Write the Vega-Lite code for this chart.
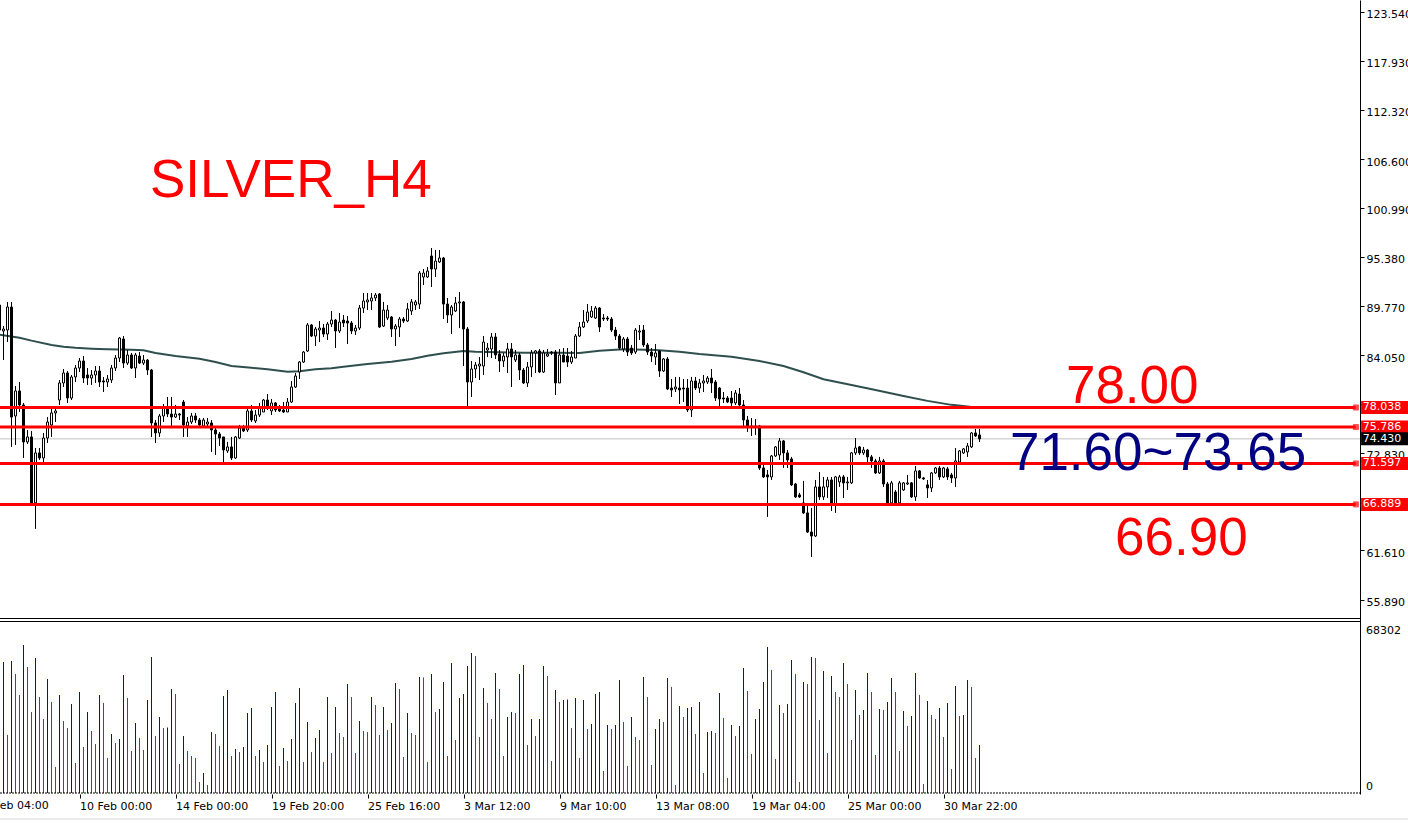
{
"$schema": "https://vega.github.io/schema/vega-lite/v6.json",
"width": 1360,
"height": 794,
"autosize": {"type": "none"},
"padding": {"left": 0, "top": 0, "right": 48, "bottom": 29},
"background": "#ffffff",
"config": {"view": {"stroke": null}, "font": "DejaVu Sans", "scale": {"continuousPadding": 0}, "axis": {"labelFont": "DejaVu Sans", "labelFontSize": 11, "labelColor": "#000000", "tickColor": "#000000", "domainColor": "#000000", "grid": false}},
"datasets": {
"bars": [
{"i":-1,"o":89.83,"h":90.64,"l":85.46,"c":86.95},
{"i":0,"o":86.84,"h":87.41,"l":83.5,"c":87.07},
{"i":1,"o":86.95,"h":90.18,"l":85.57,"c":89.6},
{"i":2,"o":89.6,"h":90.18,"l":73.5,"c":76.94},
{"i":3,"o":77.06,"h":80.51,"l":73.73,"c":79.94},
{"i":4,"o":79.94,"h":80.97,"l":77.52,"c":78.33},
{"i":5,"o":78.33,"h":78.56,"l":72.23,"c":74.07},
{"i":6,"o":74.07,"h":75.45,"l":73.84,"c":74.65},
{"i":7,"o":74.65,"h":75.34,"l":66.94,"c":67.06},
{"i":8,"o":67.06,"h":73.38,"l":64.07,"c":72.81},
{"i":9,"o":72.81,"h":73.38,"l":72.0,"c":72.23},
{"i":10,"o":72.23,"h":75.11,"l":71.66,"c":74.53},
{"i":11,"o":74.53,"h":76.94,"l":73.96,"c":76.37},
{"i":12,"o":76.03,"h":77.98,"l":74.65,"c":77.41},
{"i":13,"o":77.41,"h":78.1,"l":76.37,"c":77.64},
{"i":14,"o":78.9,"h":81.2,"l":78.33,"c":80.86},
{"i":15,"o":80.86,"h":82.47,"l":80.4,"c":82.01},
{"i":16,"o":82.01,"h":82.24,"l":78.56,"c":79.13},
{"i":17,"o":79.13,"h":81.78,"l":78.9,"c":81.55},
{"i":18,"o":81.55,"h":82.93,"l":80.97,"c":82.58},
{"i":19,"o":82.58,"h":83.73,"l":82.12,"c":83.39},
{"i":20,"o":83.39,"h":83.96,"l":80.86,"c":81.43},
{"i":21,"o":81.78,"h":82.58,"l":80.63,"c":81.43},
{"i":22,"o":81.43,"h":82.35,"l":80.63,"c":81.78},
{"i":23,"o":81.78,"h":82.81,"l":80.86,"c":82.24},
{"i":24,"o":82.24,"h":82.81,"l":80.4,"c":80.97},
{"i":25,"o":81.09,"h":81.55,"l":79.82,"c":80.97},
{"i":26,"o":80.97,"h":81.78,"l":80.4,"c":81.32},
{"i":27,"o":81.2,"h":82.93,"l":80.86,"c":82.58},
{"i":28,"o":82.58,"h":84.08,"l":82.24,"c":83.73},
{"i":29,"o":83.73,"h":86.15,"l":83.27,"c":86.03},
{"i":30,"o":85.92,"h":86.26,"l":82.58,"c":83.15},
{"i":31,"o":83.15,"h":84.65,"l":82.93,"c":84.08},
{"i":32,"o":84.08,"h":84.31,"l":82.47,"c":82.58},
{"i":33,"o":82.58,"h":84.31,"l":81.43,"c":84.08},
{"i":34,"o":83.96,"h":84.42,"l":83.04,"c":83.15},
{"i":35,"o":83.15,"h":84.08,"l":82.93,"c":83.5},
{"i":36,"o":83.5,"h":83.62,"l":81.78,"c":82.35},
{"i":37,"o":82.35,"h":82.47,"l":74.65,"c":76.26},
{"i":38,"o":76.26,"h":76.6,"l":73.96,"c":75.11},
{"i":39,"o":75.11,"h":77.29,"l":74.65,"c":77.06},
{"i":40,"o":77.06,"h":78.44,"l":76.37,"c":77.98},
{"i":41,"o":77.98,"h":79.25,"l":76.94,"c":77.29},
{"i":42,"o":77.29,"h":79.25,"l":75.91,"c":76.94},
{"i":43,"o":76.94,"h":78.33,"l":76.83,"c":77.29},
{"i":44,"o":77.29,"h":77.41,"l":76.6,"c":77.17},
{"i":45,"o":78.67,"h":78.9,"l":74.65,"c":76.03},
{"i":46,"o":75.91,"h":76.94,"l":74.65,"c":76.37},
{"i":47,"o":76.37,"h":77.41,"l":76.14,"c":77.06},
{"i":48,"o":77.06,"h":77.41,"l":76.26,"c":76.6},
{"i":49,"o":76.6,"h":76.83,"l":75.8,"c":76.03},
{"i":50,"o":75.91,"h":76.83,"l":75.8,"c":76.6},
{"i":51,"o":76.14,"h":76.83,"l":75.8,"c":76.37},
{"i":52,"o":76.26,"h":76.6,"l":72.92,"c":75.45},
{"i":53,"o":75.45,"h":75.68,"l":72.58,"c":74.99},
{"i":54,"o":74.99,"h":75.22,"l":73.61,"c":74.53},
{"i":55,"o":74.65,"h":74.65,"l":71.77,"c":73.15},
{"i":56,"o":73.04,"h":74.07,"l":72.81,"c":73.5},
{"i":57,"o":73.5,"h":74.65,"l":72.0,"c":72.23},
{"i":58,"o":72.23,"h":74.76,"l":72.12,"c":74.65},
{"i":59,"o":74.53,"h":76.03,"l":74.42,"c":75.68},
{"i":60,"o":75.68,"h":76.03,"l":75.22,"c":75.34},
{"i":61,"o":75.45,"h":78.21,"l":75.22,"c":77.64},
{"i":62,"o":77.64,"h":78.33,"l":76.37,"c":76.6},
{"i":63,"o":76.49,"h":77.75,"l":76.26,"c":77.17},
{"i":64,"o":77.17,"h":78.56,"l":76.94,"c":78.1},
{"i":65,"o":77.52,"h":79.02,"l":77.52,"c":78.9},
{"i":66,"o":78.9,"h":79.59,"l":77.75,"c":78.1},
{"i":67,"o":77.64,"h":79.02,"l":77.17,"c":78.56},
{"i":68,"o":78.56,"h":78.67,"l":77.52,"c":77.75},
{"i":69,"o":77.87,"h":78.33,"l":77.52,"c":77.64},
{"i":70,"o":77.75,"h":78.67,"l":77.41,"c":77.52},
{"i":71,"o":77.52,"h":79.13,"l":77.52,"c":78.67},
{"i":72,"o":78.67,"h":81.09,"l":78.56,"c":80.4},
{"i":73,"o":80.4,"h":82.01,"l":80.28,"c":81.66},
{"i":74,"o":82.12,"h":83.39,"l":81.32,"c":83.27},
{"i":75,"o":83.27,"h":84.54,"l":83.15,"c":84.42},
{"i":76,"o":84.54,"h":87.76,"l":84.42,"c":87.53},
{"i":77,"o":87.53,"h":87.64,"l":86.15,"c":86.26},
{"i":78,"o":86.26,"h":87.3,"l":85.11,"c":87.07},
{"i":79,"o":86.95,"h":87.99,"l":85.57,"c":87.18},
{"i":80,"o":87.18,"h":87.64,"l":86.15,"c":86.49},
{"i":81,"o":86.49,"h":87.87,"l":85.8,"c":87.64},
{"i":82,"o":87.64,"h":89.14,"l":87.3,"c":88.1},
{"i":83,"o":88.1,"h":88.22,"l":84.88,"c":86.84},
{"i":84,"o":86.84,"h":88.91,"l":86.61,"c":87.87},
{"i":85,"o":88.1,"h":88.68,"l":87.3,"c":87.76},
{"i":86,"o":87.99,"h":88.56,"l":85.34,"c":87.76},
{"i":87,"o":87.76,"h":87.99,"l":86.49,"c":86.84},
{"i":88,"o":86.84,"h":87.53,"l":86.38,"c":87.18},
{"i":89,"o":87.18,"h":89.83,"l":86.95,"c":89.48},
{"i":90,"o":89.48,"h":91.21,"l":88.91,"c":90.29},
{"i":91,"o":90.18,"h":91.21,"l":89.25,"c":90.41},
{"i":92,"o":90.29,"h":91.21,"l":89.25,"c":90.64},
{"i":93,"o":90.64,"h":91.21,"l":90.29,"c":90.98},
{"i":94,"o":91.1,"h":91.21,"l":87.18,"c":87.3},
{"i":95,"o":87.41,"h":90.18,"l":87.3,"c":89.25},
{"i":96,"o":88.33,"h":89.83,"l":88.1,"c":89.25},
{"i":97,"o":88.45,"h":88.56,"l":86.15,"c":87.07},
{"i":98,"o":87.07,"h":87.64,"l":85.11,"c":87.41},
{"i":99,"o":87.3,"h":88.45,"l":86.15,"c":88.22},
{"i":100,"o":88.22,"h":88.45,"l":87.76,"c":87.99},
{"i":101,"o":87.99,"h":90.06,"l":87.87,"c":89.37},
{"i":102,"o":89.14,"h":90.52,"l":88.68,"c":90.18},
{"i":103,"o":89.83,"h":90.41,"l":89.25,"c":90.18},
{"i":104,"o":89.94,"h":93.74,"l":89.37,"c":93.51},
{"i":105,"o":93.05,"h":93.97,"l":92.13,"c":93.51},
{"i":106,"o":93.05,"h":94.2,"l":92.94,"c":93.74},
{"i":107,"o":95.47,"h":96.39,"l":91.9,"c":93.97},
{"i":108,"o":93.97,"h":96.16,"l":93.05,"c":94.89},
{"i":109,"o":94.78,"h":96.16,"l":94.66,"c":95.24},
{"i":110,"o":95.24,"h":95.36,"l":88.22,"c":89.94},
{"i":111,"o":89.94,"h":90.64,"l":87.76,"c":88.68},
{"i":112,"o":88.68,"h":89.83,"l":86.49,"c":89.6},
{"i":113,"o":89.14,"h":90.75,"l":89.02,"c":90.06},
{"i":114,"o":90.06,"h":91.33,"l":87.18,"c":90.18},
{"i":115,"o":90.18,"h":90.29,"l":82.81,"c":87.07},
{"i":116,"o":87.07,"h":87.3,"l":78.1,"c":80.97},
{"i":117,"o":80.97,"h":83.39,"l":79.25,"c":82.47},
{"i":118,"o":82.47,"h":83.27,"l":81.43,"c":82.93},
{"i":119,"o":82.81,"h":83.85,"l":81.2,"c":83.04},
{"i":120,"o":82.81,"h":86.26,"l":81.78,"c":85.57},
{"i":121,"o":84.65,"h":85.46,"l":83.85,"c":84.88},
{"i":122,"o":84.77,"h":86.61,"l":83.73,"c":86.15},
{"i":123,"o":86.15,"h":86.61,"l":83.62,"c":84.08},
{"i":124,"o":84.19,"h":84.65,"l":82.12,"c":83.39},
{"i":125,"o":83.39,"h":84.31,"l":82.7,"c":83.96},
{"i":126,"o":83.85,"h":85.46,"l":82.01,"c":84.77},
{"i":127,"o":84.77,"h":85.46,"l":80.4,"c":83.85},
{"i":128,"o":83.5,"h":84.65,"l":83.27,"c":84.08},
{"i":129,"o":84.08,"h":84.31,"l":81.2,"c":82.35},
{"i":130,"o":82.35,"h":82.58,"l":80.74,"c":80.86},
{"i":131,"o":80.86,"h":83.27,"l":80.4,"c":82.7},
{"i":132,"o":82.7,"h":84.65,"l":81.55,"c":84.31},
{"i":133,"o":84.31,"h":84.65,"l":82.01,"c":84.54},
{"i":134,"o":84.54,"h":84.77,"l":82.01,"c":82.12},
{"i":135,"o":82.12,"h":84.65,"l":82.01,"c":84.31},
{"i":136,"o":83.96,"h":84.77,"l":83.85,"c":84.19},
{"i":137,"o":84.42,"h":84.54,"l":84.08,"c":84.31},
{"i":138,"o":84.42,"h":84.65,"l":79.48,"c":80.86},
{"i":139,"o":80.86,"h":84.77,"l":80.86,"c":84.08},
{"i":140,"o":84.08,"h":84.88,"l":83.27,"c":83.27},
{"i":141,"o":83.96,"h":84.88,"l":82.7,"c":83.27},
{"i":142,"o":83.27,"h":84.54,"l":83.04,"c":83.85},
{"i":143,"o":83.73,"h":86.49,"l":83.73,"c":86.26},
{"i":144,"o":86.26,"h":87.87,"l":86.15,"c":87.3},
{"i":145,"o":87.3,"h":89.25,"l":87.18,"c":87.87},
{"i":146,"o":87.99,"h":89.94,"l":87.76,"c":89.02},
{"i":147,"o":88.45,"h":89.71,"l":88.33,"c":89.14},
{"i":148,"o":88.33,"h":89.71,"l":88.22,"c":89.48},
{"i":149,"o":89.48,"h":89.6,"l":86.72,"c":87.3},
{"i":150,"o":88.33,"h":88.79,"l":87.99,"c":88.22},
{"i":151,"o":88.33,"h":88.56,"l":87.99,"c":88.22},
{"i":152,"o":88.22,"h":88.45,"l":86.72,"c":86.95},
{"i":153,"o":86.95,"h":87.3,"l":85.8,"c":86.26},
{"i":154,"o":86.26,"h":86.49,"l":84.65,"c":84.88},
{"i":155,"o":84.77,"h":86.15,"l":84.42,"c":85.92},
{"i":156,"o":85.92,"h":86.15,"l":83.96,"c":84.42},
{"i":157,"o":84.88,"h":85.23,"l":84.08,"c":84.31},
{"i":158,"o":84.42,"h":87.18,"l":84.19,"c":86.95},
{"i":159,"o":86.72,"h":87.53,"l":85.8,"c":86.84},
{"i":160,"o":86.95,"h":87.53,"l":85.0,"c":85.23},
{"i":161,"o":85.23,"h":85.46,"l":84.08,"c":84.42},
{"i":162,"o":84.42,"h":84.88,"l":83.27,"c":83.96},
{"i":163,"o":83.85,"h":85.34,"l":82.93,"c":84.31},
{"i":164,"o":84.54,"h":84.65,"l":81.55,"c":82.24},
{"i":165,"o":82.24,"h":83.73,"l":82.12,"c":83.62},
{"i":166,"o":83.62,"h":83.85,"l":80.05,"c":80.17},
{"i":167,"o":80.28,"h":81.32,"l":79.25,"c":80.05},
{"i":168,"o":80.17,"h":81.55,"l":79.82,"c":80.4},
{"i":169,"o":80.28,"h":81.55,"l":78.44,"c":80.05},
{"i":170,"o":80.28,"h":81.32,"l":78.67,"c":80.17},
{"i":171,"o":80.28,"h":81.32,"l":77.52,"c":77.75},
{"i":172,"o":77.75,"h":81.55,"l":76.94,"c":81.09},
{"i":173,"o":81.09,"h":81.55,"l":80.05,"c":80.28},
{"i":174,"o":80.28,"h":81.32,"l":79.71,"c":80.86},
{"i":175,"o":80.86,"h":81.78,"l":79.82,"c":81.09},
{"i":176,"o":80.97,"h":81.66,"l":80.74,"c":81.43},
{"i":177,"o":81.43,"h":82.47,"l":79.71,"c":80.86},
{"i":178,"o":80.97,"h":81.2,"l":78.79,"c":79.13},
{"i":179,"o":80.28,"h":80.4,"l":78.1,"c":79.02},
{"i":180,"o":79.13,"h":79.82,"l":78.56,"c":79.02},
{"i":181,"o":79.13,"h":79.36,"l":78.56,"c":78.67},
{"i":182,"o":79.13,"h":79.94,"l":78.1,"c":78.56},
{"i":183,"o":78.56,"h":80.05,"l":78.33,"c":79.71},
{"i":184,"o":79.59,"h":80.28,"l":77.98,"c":78.33},
{"i":185,"o":78.33,"h":78.9,"l":75.68,"c":76.6},
{"i":186,"o":76.6,"h":77.06,"l":75.22,"c":75.91},
{"i":187,"o":75.91,"h":76.83,"l":74.76,"c":75.8},
{"i":188,"o":75.8,"h":76.72,"l":74.88,"c":75.91},
{"i":189,"o":75.91,"h":76.03,"l":70.85,"c":71.08},
{"i":190,"o":71.08,"h":71.77,"l":69.93,"c":70.05},
{"i":191,"o":70.28,"h":70.85,"l":65.45,"c":70.05},
{"i":192,"o":70.05,"h":72.58,"l":69.7,"c":72.46},
{"i":193,"o":72.46,"h":73.61,"l":72.35,"c":73.5},
{"i":194,"o":72.58,"h":74.53,"l":72.0,"c":74.19},
{"i":195,"o":74.19,"h":74.3,"l":71.08,"c":72.81},
{"i":196,"o":72.81,"h":73.15,"l":71.08,"c":72.0},
{"i":197,"o":72.12,"h":72.35,"l":69.01,"c":69.13},
{"i":198,"o":69.24,"h":69.36,"l":67.63,"c":67.75},
{"i":199,"o":67.98,"h":68.21,"l":67.63,"c":67.75},
{"i":200,"o":67.06,"h":69.59,"l":65.79,"c":65.91},
{"i":201,"o":65.91,"h":67.06,"l":63.6,"c":63.71},
{"i":202,"o":63.71,"h":66.48,"l":60.84,"c":63.25},
{"i":203,"o":63.25,"h":69.7,"l":63.14,"c":68.9},
{"i":204,"o":68.9,"h":70.62,"l":67.4,"c":67.75},
{"i":205,"o":67.75,"h":70.05,"l":67.4,"c":68.9},
{"i":206,"o":68.9,"h":70.05,"l":67.63,"c":69.7},
{"i":207,"o":69.7,"h":70.05,"l":66.13,"c":66.94},
{"i":208,"o":66.94,"h":70.16,"l":65.91,"c":70.05},
{"i":209,"o":69.47,"h":70.28,"l":68.9,"c":70.05},
{"i":210,"o":70.05,"h":70.28,"l":67.63,"c":69.36},
{"i":211,"o":69.36,"h":70.05,"l":68.55,"c":69.47},
{"i":212,"o":69.36,"h":72.92,"l":69.24,"c":72.81},
{"i":213,"o":72.81,"h":74.53,"l":72.58,"c":73.38},
{"i":214,"o":73.5,"h":73.61,"l":72.58,"c":72.81},
{"i":215,"o":72.81,"h":73.5,"l":72.58,"c":73.15},
{"i":216,"o":73.15,"h":73.27,"l":71.77,"c":72.35},
{"i":217,"o":72.35,"h":72.58,"l":71.08,"c":71.89},
{"i":218,"o":71.89,"h":72.12,"l":70.39,"c":70.51},
{"i":219,"o":70.51,"h":72.35,"l":70.39,"c":71.89},
{"i":220,"o":71.89,"h":72.12,"l":68.9,"c":69.24},
{"i":221,"o":69.24,"h":69.47,"l":66.94,"c":67.06},
{"i":222,"o":67.06,"h":69.59,"l":66.94,"c":69.36},
{"i":223,"o":68.32,"h":68.55,"l":66.94,"c":67.06},
{"i":224,"o":67.06,"h":69.59,"l":66.94,"c":69.36},
{"i":225,"o":68.55,"h":69.47,"l":68.44,"c":69.36},
{"i":226,"o":69.24,"h":70.28,"l":69.13,"c":69.36},
{"i":227,"o":69.36,"h":69.47,"l":67.63,"c":67.75},
{"i":228,"o":67.75,"h":71.31,"l":67.29,"c":70.74},
{"i":229,"o":70.74,"h":70.85,"l":69.82,"c":69.93},
{"i":230,"o":69.93,"h":70.05,"l":69.7,"c":69.82},
{"i":231,"o":69.13,"h":69.7,"l":67.63,"c":68.78},
{"i":232,"o":68.78,"h":70.62,"l":68.32,"c":70.51},
{"i":233,"o":70.51,"h":71.2,"l":70.39,"c":71.08},
{"i":234,"o":71.08,"h":71.31,"l":69.7,"c":70.05},
{"i":235,"o":70.05,"h":71.2,"l":69.93,"c":71.08},
{"i":236,"o":70.97,"h":71.2,"l":69.7,"c":70.05},
{"i":237,"o":70.28,"h":70.51,"l":69.36,"c":69.93},
{"i":238,"o":69.93,"h":73.38,"l":68.9,"c":71.89},
{"i":239,"o":71.77,"h":73.15,"l":71.66,"c":73.04},
{"i":240,"o":72.81,"h":73.38,"l":72.69,"c":73.27},
{"i":241,"o":72.92,"h":73.96,"l":72.35,"c":73.61},
{"i":242,"o":73.5,"h":75.22,"l":73.38,"c":75.11},
{"i":243,"o":75.11,"h":75.57,"l":74.65,"c":74.76},
{"i":244,"o":74.88,"h":75.57,"l":74.07,"c":74.43}
],
"vol": [
{"i":0,"v":52321},{"i":1,"v":23165},{"i":2,"v":52721},{"i":3,"v":47529},{"i":4,"v":39141},{"i":5,"v":59111},{"i":6,"v":50324},{"i":7,"v":32351},{"i":8,"v":53919},{"i":9,"v":38342},
{"i":10,"v":29556},{"i":11,"v":45532},{"i":12,"v":36345},{"i":13,"v":10384},{"i":14,"v":39141},{"i":15,"v":28757},{"i":16,"v":25961},{"i":17,"v":35547},{"i":18,"v":11982},{"i":19,"v":40339},
{"i":20,"v":18372},{"i":21,"v":32351},{"i":22,"v":24763},{"i":23,"v":19571},{"i":24,"v":39141},{"i":25,"v":35946},{"i":26,"v":13979},{"i":27,"v":23565},{"i":28,"v":19970},{"i":29,"v":21568},
{"i":30,"v":47129},{"i":31,"v":37943},{"i":32,"v":16775},{"i":33,"v":27958},{"i":34,"v":21967},{"i":35,"v":17174},{"i":36,"v":37144},{"i":37,"v":54318},{"i":38,"v":22766},{"i":39,"v":30354},
{"i":40,"v":25961},{"i":41,"v":26200},{"i":42,"v":41538},{"i":43,"v":39541},{"i":44,"v":11583},{"i":45,"v":22766},{"i":46,"v":16775},{"i":47,"v":14778},{"i":48,"v":13979},{"i":49,"v":4393},
{"i":50,"v":7988},{"i":51,"v":3195},{"i":52,"v":24363},{"i":53,"v":23565},{"i":54,"v":18772},{"i":55,"v":38742},{"i":56,"v":41138},{"i":57,"v":14778},{"i":58,"v":17574},{"i":59,"v":16375},
{"i":60,"v":18372},{"i":61,"v":31952},{"i":62,"v":33949},{"i":63,"v":14778},{"i":64,"v":17174},{"i":65,"v":12381},{"i":66,"v":19171},{"i":67,"v":34348},{"i":68,"v":40339},{"i":69,"v":10784},
{"i":70,"v":17973},{"i":71,"v":12781},{"i":72,"v":21568},{"i":73,"v":35946},{"i":74,"v":41937},{"i":75,"v":12381},{"i":76,"v":28357},{"i":77,"v":16375},{"i":78,"v":21967},{"i":79,"v":25162},
{"i":80,"v":12381},{"i":81,"v":38342},{"i":82,"v":15976},{"i":83,"v":34348},{"i":84,"v":23964},{"i":85,"v":22366},{"i":86,"v":43535},{"i":87,"v":38342},{"i":88,"v":15976},{"i":89,"v":28757},
{"i":90,"v":24763},{"i":91,"v":24363},{"i":92,"v":38342},{"i":93,"v":35147},{"i":94,"v":23165},{"i":95,"v":34348},{"i":96,"v":25162},{"i":97,"v":27958},{"i":98,"v":43934},{"i":99,"v":41538},
{"i":100,"v":14378},{"i":101,"v":31952},{"i":102,"v":23964},{"i":103,"v":23165},{"i":104,"v":46330},{"i":105,"v":46100},{"i":106,"v":12381},{"i":107,"v":47529},{"i":108,"v":32351},{"i":109,"v":33550},
{"i":110,"v":44333},{"i":111,"v":14778},{"i":112,"v":51922},{"i":113,"v":21168},{"i":114,"v":37943},{"i":115,"v":39541},{"i":116,"v":50724},{"i":117,"v":55916},{"i":118,"v":54718},{"i":119,"v":22366},
{"i":120,"v":41937},{"i":121,"v":35946},{"i":122,"v":29556},{"i":123,"v":47928},{"i":124,"v":41538},{"i":125,"v":14778},{"i":126,"v":30354},{"i":127,"v":32351},{"i":128,"v":31952},{"i":129,"v":47529},
{"i":130,"v":51123},{"i":131,"v":19171},{"i":132,"v":29556},{"i":133,"v":22766},{"i":134,"v":29556},{"i":135,"v":50724},{"i":136,"v":46730},{"i":137,"v":12781},{"i":138,"v":41138},{"i":139,"v":36345},
{"i":140,"v":37144},{"i":141,"v":37300},{"i":142,"v":25961},{"i":143,"v":37943},{"i":144,"v":13979},{"i":145,"v":37144},{"i":146,"v":25562},{"i":147,"v":27559},{"i":148,"v":39541},{"i":149,"v":40339},
{"i":150,"v":8787},{"i":151,"v":27159},{"i":152,"v":25562},{"i":153,"v":27159},{"i":154,"v":45132},{"i":155,"v":28357},{"i":156,"v":10784},{"i":157,"v":30354},{"i":158,"v":22366},{"i":159,"v":21168},
{"i":160,"v":46330},{"i":161,"v":38342},{"i":162,"v":11183},{"i":163,"v":25562},{"i":164,"v":29556},{"i":165,"v":28357},{"i":166,"v":45931},{"i":167,"v":42336},{"i":168,"v":3195},{"i":169,"v":34748},
{"i":170,"v":30354},{"i":171,"v":33949},{"i":172,"v":34348},{"i":173,"v":23565},{"i":174,"v":36345},{"i":175,"v":7988},{"i":176,"v":24363},{"i":177,"v":24763},{"i":178,"v":23964},{"i":179,"v":39940},
{"i":180,"v":29955},{"i":181,"v":5991},{"i":182,"v":27159},{"i":183,"v":22766},{"i":184,"v":26760},{"i":185,"v":49925},{"i":186,"v":40739},{"i":187,"v":15577},{"i":188,"v":29556},{"i":189,"v":33550},
{"i":190,"v":44333},{"i":191,"v":58312},{"i":192,"v":49126},{"i":193,"v":13580},{"i":194,"v":35147},{"i":195,"v":31952},{"i":196,"v":35547},{"i":197,"v":53120},{"i":198,"v":47529},{"i":199,"v":4393},
{"i":200,"v":44333},{"i":201,"v":43535},{"i":202,"v":54318},{"i":203,"v":53919},{"i":204,"v":29156},{"i":205,"v":48727},{"i":206,"v":15976},{"i":207,"v":46730},{"i":208,"v":40339},{"i":209,"v":38342},
{"i":210,"v":51922},{"i":211,"v":43535},{"i":212,"v":21168},{"i":213,"v":41138},{"i":214,"v":31153},{"i":215,"v":33150},{"i":216,"v":47928},{"i":217,"v":40339},{"i":218,"v":15177},{"i":219,"v":33550},
{"i":220,"v":33150},{"i":221,"v":36345},{"i":222,"v":45931},{"i":223,"v":40339},{"i":224,"v":16775},{"i":225,"v":32751},{"i":226,"v":26760},{"i":227,"v":30754},{"i":228,"v":47928},{"i":229,"v":39141},
{"i":230,"v":3595},{"i":231,"v":36745},{"i":232,"v":31153},{"i":233,"v":29556},{"i":234,"v":33949},{"i":235,"v":22366},{"i":236,"v":35946},{"i":237,"v":9586},{"i":238,"v":42736},{"i":239,"v":30754},
{"i":240,"v":31153},{"i":241,"v":45132},{"i":242,"v":42336},{"i":243,"v":13979},{"i":244,"v":19171}
],
"ma": [
{"i":-1,"m":86.41},{"i":4,"m":86.07},{"i":7,"m":85.73},{"i":12,"m":85.23},{"i":15,"m":85.04},{"i":18,"m":84.92},{"i":22,"m":84.81},{"i":26,"m":84.74},{"i":32,"m":84.69},{"i":35,"m":84.62},{"i":38,"m":84.31},{"i":43,"m":83.96},{"i":49,"m":83.65},{"i":53,"m":83.27},{"i":57,"m":82.81},{"i":62,"m":82.61},{"i":66,"m":82.43},{"i":71,"m":82.15},{"i":74,"m":82.2},{"i":78,"m":82.43},{"i":82,"m":82.54},{"i":85,"m":82.73},{"i":91,"m":83.04},{"i":97,"m":83.3},{"i":102,"m":83.61},{"i":106,"m":83.99},{"i":110,"m":84.27},{"i":115,"m":84.53},{"i":118,"m":84.45},{"i":130,"m":84.34},{"i":139,"m":84.34},{"i":144,"m":84.31},{"i":149,"m":84.57},{"i":155,"m":84.73},{"i":163,"m":84.65},{"i":169,"m":84.45},{"i":174,"m":84.19},{"i":182,"m":83.88},{"i":189,"m":83.39},{"i":195,"m":82.81},{"i":200,"m":82.09},{"i":205,"m":81.29},{"i":212,"m":80.63},{"i":218,"m":80.06},{"i":225,"m":79.37},{"i":231,"m":78.8},{"i":237,"m":78.34},{"i":241,"m":78.14},{"i":244,"m":77.99}
],
"levels": [{"p":78.038},{"p":75.786},{"p":71.597},{"p":66.889}]
},
"resolve": {"scale": {"y": "independent"}},
"layer": [
{
"layer": [
{
"data": {"name": "vol"},
"transform": [{"window": [{"op": "lag", "field": "v", "as": "pv"}], "sort": [{"field": "i"}]}, {"filter": "datum.v > datum.pv"}],
"mark": {"type": "bar", "size": 1, "color": "#0000ff", "fill": "#0000ff", "stroke": null},
"encoding": {
"x": {"field": "i", "type": "quantitative", "title": null, "scale": {"domain": [-0.875, 339.125], "nice": false, "zero": false, "padding": 0},
"axis": {"orient": "bottom", "values": [19,43,67,91,115,139,163,187,211,235], "labelExpr": "['10 Feb 00:00','14 Feb 00:00','19 Feb 20:00','25 Feb 16:00','3 Mar 12:00','9 Mar 10:00','13 Mar 08:00','19 Mar 04:00','25 Mar 00:00','30 Mar 22:00'][round((datum.value-19)/24)]", "labelAlign": "left", "labelPadding": 2, "tickSize": 4, "domain": false, "labelOverlap": false, "labelFlush": false, "labelBound": false, "title": null}},
"y": {"field": "v", "type": "quantitative", "scale": {"domain": [-399, 316748], "nice": false, "zero": false, "padding": 0}, "axis": null},
"y2": {"datum": 0}
}
},
{
"data": {"name": "vol"},
"transform": [{"window": [{"op": "lag", "field": "v", "as": "pv"}], "sort": [{"field": "i"}]}, {"filter": "!(datum.v > datum.pv)"}],
"mark": {"type": "bar", "size": 1, "color": "#ff0000", "fill": "#ff0000", "stroke": null},
"encoding": {
"x": {"field": "i", "type": "quantitative", "title": null, "scale": {"domain": [-0.875, 339.125], "nice": false, "zero": false, "padding": 0}},
"y": {"field": "v", "type": "quantitative", "scale": {"domain": [-399, 316748], "nice": false, "zero": false, "padding": 0}, "axis": null},
"y2": {"datum": 0}
}
},
{
"data": {"values": [{}]},
"mark": {"type": "rule", "color": "#000000", "strokeWidth": 1, "strokeDash": [2, 1]},
"encoding": {"x": {"datum": -0.875, "scale": {"domain": [-0.875, 339.125], "nice": false, "zero": false, "padding": 0}}, "x2": {"datum": 339.125}, "y": {"datum": 0, "scale": {"domain": [-399, 316748], "nice": false, "zero": false, "padding": 0}}}
},
{
"data": {"values": [{}]},
"mark": {"type": "rule", "color": "#000000", "strokeWidth": 1},
"encoding": {"x": {"datum": -0.875, "scale": {"domain": [-0.875, 339.125], "nice": false, "zero": false, "padding": 0}}, "x2": {"datum": 339.125}, "y": {"datum": 68502, "scale": {"domain": [-399, 316748], "nice": false, "zero": false, "padding": 0}}}
},
{
"data": {"values": [{}]},
"mark": {"type": "rule", "color": "#d8d8d8", "strokeWidth": 1},
"encoding": {"x": {"datum": -0.875, "scale": {"domain": [-0.875, 339.125], "nice": false, "zero": false, "padding": 0}}, "x2": {"datum": 352.5}, "y": {"datum": -10385, "scale": {"domain": [-399, 316748], "nice": false, "zero": false, "padding": 0}}}
},
{
"data": {"values": [{}]},
"mark": {"type": "text", "text": "68302", "align": "left", "baseline": "top", "dy": 3, "font": "DejaVu Sans", "fontSize": 11, "color": "#000000"},
"encoding": {"x": {"datum": 340.6, "scale": {"domain": [-0.875, 339.125], "nice": false, "zero": false, "padding": 0}}, "y": {"datum": 68302, "scale": {"domain": [-399, 316748], "nice": false, "zero": false, "padding": 0}}}
},
{
"data": {"values": [{}]},
"mark": {"type": "text", "text": "0", "align": "left", "baseline": "alphabetic", "dy": -3, "font": "DejaVu Sans", "fontSize": 11, "color": "#000000"},
"encoding": {"x": {"datum": 340.6, "scale": {"domain": [-0.875, 339.125], "nice": false, "zero": false, "padding": 0}}, "y": {"datum": 0, "scale": {"domain": [-399, 316748], "nice": false, "zero": false, "padding": 0}}}
},
{
"data": {"values": [{}]},
"mark": {"type": "text", "text": "5 Feb 04:00", "align": "left", "baseline": "top", "font": "DejaVu Sans", "fontSize": 11, "color": "#000000"},
"encoding": {"x": {"datum": -5, "scale": {"domain": [-0.875, 339.125], "nice": false, "zero": false, "padding": 0}}, "y": {"datum": -2796, "scale": {"domain": [-399, 316748], "nice": false, "zero": false, "padding": 0}}}
}
]
},
{
"layer": [
{
"data": {"values": [{}]},
"mark": {"type": "rule", "color": "#c0c0c0", "strokeWidth": 1},
"encoding": {"x": {"datum": -0.875, "scale": {"domain": [-0.875, 339.125], "nice": false, "zero": false, "padding": 0}}, "x2": {"datum": 339.125}, "y": {"datum": 74.43, "scale": {"domain": [33.57, 124.9206], "nice": false, "zero": false, "padding": 0},
"axis": {"orient": "right", "values": [123.54,117.93,112.32,106.6,100.99,95.38,89.77,84.05,78.44,72.83,67.22,61.61,55.89], "format": ".3f", "tickSize": 4, "labelPadding": 2, "labelAlign": "left", "labelBaseline": "middle", "labelOffset": 3, "title": null, "labelOverlap": false, "labelFlush": false, "labelBound": false}}}
},
{
"data": {"values": [{}]},
"mark": {"type": "rule", "color": "#000000", "strokeWidth": 1},
"encoding": {"x": {"datum": -0.875, "scale": {"domain": [-0.875, 339.125], "nice": false, "zero": false, "padding": 0}}, "x2": {"datum": 339.125}, "y": {"datum": 53.76, "scale": {"domain": [33.57, 124.9206], "nice": false, "zero": false, "padding": 0}}}
},
{
"data": {"name": "ma"},
"mark": {"type": "line", "color": "#2f4f4f", "strokeWidth": 2},
"encoding": {"x": {"field": "i", "type": "quantitative", "title": null, "scale": {"domain": [-0.875, 339.125], "nice": false, "zero": false, "padding": 0}}, "y": {"field": "m", "type": "quantitative", "title": null, "scale": {"domain": [33.57, 124.9206], "nice": false, "zero": false, "padding": 0}}}
},
{
"data": {"name": "bars"},
"mark": {"type": "rule", "color": "#000000", "strokeWidth": 1},
"encoding": {"x": {"field": "i", "type": "quantitative", "title": null, "scale": {"domain": [-0.875, 339.125], "nice": false, "zero": false, "padding": 0}}, "y": {"field": "l", "type": "quantitative", "title": null, "scale": {"domain": [33.57, 124.9206], "nice": false, "zero": false, "padding": 0}}, "y2": {"field": "h"}}
},
{
"data": {"name": "bars"},
"mark": {"type": "bar", "size": 2, "stroke": "#000000", "strokeWidth": 1},
"encoding": {"x": {"field": "i", "type": "quantitative", "title": null, "scale": {"domain": [-0.875, 339.125], "nice": false, "zero": false, "padding": 0}}, "y": {"field": "o", "type": "quantitative", "title": null, "scale": {"domain": [33.57, 124.9206], "nice": false, "zero": false, "padding": 0}}, "y2": {"field": "c"},
"fill": {"condition": {"test": "datum.c >= datum.o", "value": "#ffffff"}, "value": "#000000"}}
},
{
"data": {"name": "levels"},
"mark": {"type": "rule", "color": "#ff0000", "strokeWidth": 3},
"encoding": {"x": {"datum": -1, "scale": {"domain": [-0.875, 339.125], "nice": false, "zero": false, "padding": 0}}, "x2": {"datum": 338}, "y": {"field": "p", "type": "quantitative", "title": null, "scale": {"domain": [33.57, 124.9206], "nice": false, "zero": false, "padding": 0}}}
},
{
"data": {"name": "levels"},
"mark": {"type": "square", "size": 25, "filled": true, "color": "#ff0000", "stroke": "#ff0000", "strokeWidth": 1},
"encoding": {"x": {"datum": 338.1, "scale": {"domain": [-0.875, 339.125], "nice": false, "zero": false, "padding": 0}}, "y": {"field": "p", "type": "quantitative", "scale": {"domain": [33.57, 124.9206], "nice": false, "zero": false, "padding": 0}}}
},
{
"data": {"name": "levels"},
"mark": {"type": "rule", "color": "#ff0000", "strokeWidth": 13},
"encoding": {"x": {"datum": 339.4, "scale": {"domain": [-0.875, 339.125], "nice": false, "zero": false, "padding": 0}}, "x2": {"datum": 352}, "y": {"field": "p", "type": "quantitative", "scale": {"domain": [33.57, 124.9206], "nice": false, "zero": false, "padding": 0}}}
},
{
"data": {"name": "levels"},
"mark": {"type": "text", "align": "left", "baseline": "middle", "color": "#ffffff", "font": "DejaVu Sans", "fontSize": 11},
"encoding": {"x": {"datum": 339.8, "scale": {"domain": [-0.875, 339.125], "nice": false, "zero": false, "padding": 0}}, "y": {"field": "p", "type": "quantitative", "scale": {"domain": [33.57, 124.9206], "nice": false, "zero": false, "padding": 0}}, "text": {"field": "p", "type": "quantitative", "format": ".3f"}}
},
{
"data": {"values": [{}]},
"mark": {"type": "rule", "color": "#000000", "strokeWidth": 13},
"encoding": {"x": {"datum": 339.4, "scale": {"domain": [-0.875, 339.125], "nice": false, "zero": false, "padding": 0}}, "x2": {"datum": 352}, "y": {"datum": 74.43, "scale": {"domain": [33.57, 124.9206], "nice": false, "zero": false, "padding": 0}}}
},
{
"data": {"values": [{}]},
"mark": {"type": "text", "text": "74.430", "align": "left", "baseline": "middle", "color": "#ffffff", "font": "DejaVu Sans", "fontSize": 11},
"encoding": {"x": {"datum": 339.8, "scale": {"domain": [-0.875, 339.125], "nice": false, "zero": false, "padding": 0}}, "y": {"datum": 74.43, "scale": {"domain": [33.57, 124.9206], "nice": false, "zero": false, "padding": 0}}}
},
{
"data": {"values": [{}]},
"mark": {"type": "text", "text": "SILVER_H4", "align": "left", "baseline": "alphabetic", "color": "#ff0000", "font": "Liberation Sans", "fontSize": 53},
"encoding": {"x": {"datum": 36.6, "scale": {"domain": [-0.875, 339.125], "nice": false, "zero": false, "padding": 0}}, "y": {"datum": 102.26, "scale": {"domain": [33.57, 124.9206], "nice": false, "zero": false, "padding": 0}}}
},
{
"data": {"values": [{}]},
"mark": {"type": "text", "text": "78.00", "align": "left", "baseline": "alphabetic", "color": "#ff0000", "font": "Liberation Sans", "fontSize": 53},
"encoding": {"x": {"datum": 265.6, "scale": {"domain": [-0.875, 339.125], "nice": false, "zero": false, "padding": 0}}, "y": {"datum": 78.56, "scale": {"domain": [33.57, 124.9206], "nice": false, "zero": false, "padding": 0}}}
},
{
"data": {"values": [{}]},
"mark": {"type": "text", "text": "71.60~73.65", "align": "left", "baseline": "alphabetic", "color": "#000080", "font": "Liberation Sans", "fontSize": 53},
"encoding": {"x": {"datum": 251.6, "scale": {"domain": [-0.875, 339.125], "nice": false, "zero": false, "padding": 0}}, "y": {"datum": 70.85, "scale": {"domain": [33.57, 124.9206], "nice": false, "zero": false, "padding": 0}}}
},
{
"data": {"values": [{}]},
"mark": {"type": "text", "text": "66.90", "align": "left", "baseline": "alphabetic", "color": "#ff0000", "font": "Liberation Sans", "fontSize": 53},
"encoding": {"x": {"datum": 277.9, "scale": {"domain": [-0.875, 339.125], "nice": false, "zero": false, "padding": 0}}, "y": {"datum": 61.07, "scale": {"domain": [33.57, 124.9206], "nice": false, "zero": false, "padding": 0}}}
}
]
}
]
}
